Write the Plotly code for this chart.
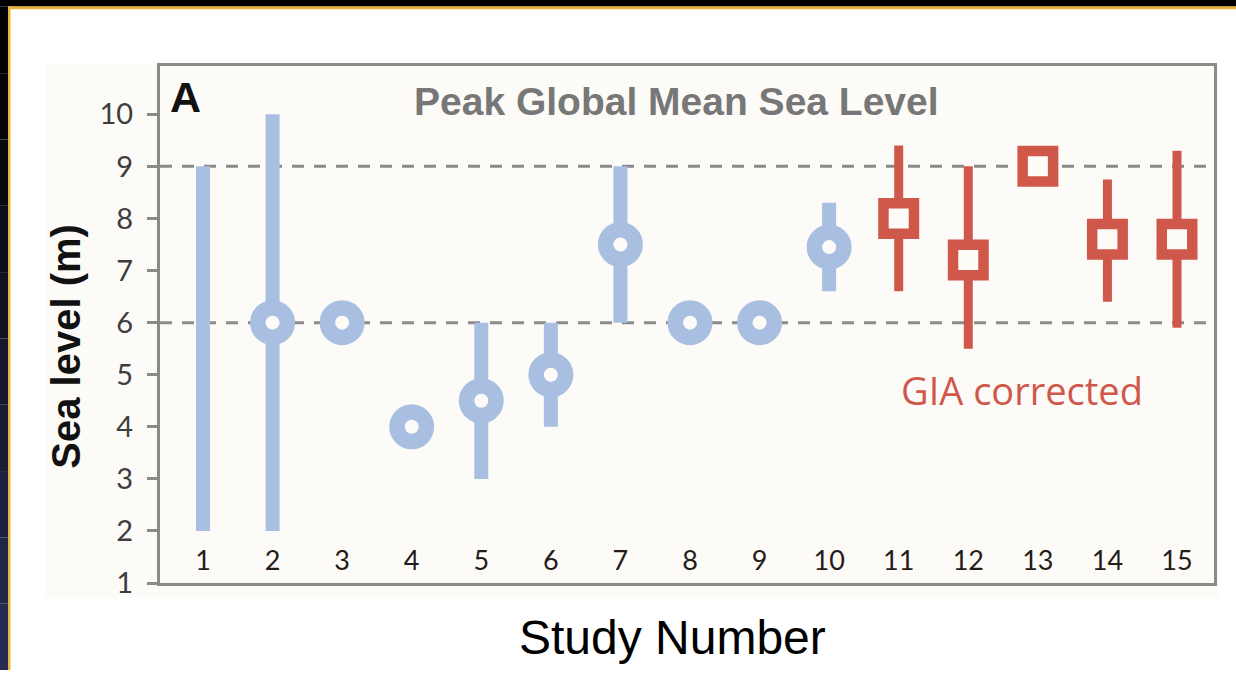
import plotly.graph_objects as go

# Peak global mean sea level estimates by study
studies = list(range(1, 16))
range_low = [2, 2, None, None, 3, 4, 6, None, None, 6.6, 6.6, 5.5, None, 6.4, 5.9]
range_high = [9, 10, None, None, 6, 6, 9, None, None, 8.3, 9.4, 9.0, None, 8.75, 9.3]
central = [None, 6, 6, 4, 4.5, 5, 7.5, 6, 6, 7.45, 8.0, 7.2, 9.0, 7.6, 7.6]
gia_corrected = [False] * 10 + [True] * 5
reference_levels = [6, 9]
y_ticks = list(range(1, 11))

W, H = 1236, 686
BLUE = "#a9bfe1"
RED = "#d0584b"
CREAM = "#fdfbf7"
FRAME = "#8a8a8a"

# plot rectangle in pixels
PL, PR, PT, PB = 160, 1214, 68, 597


def px(x):
    return x / W


def py(y):
    return 1 - y / H


fig = go.Figure()

for corrected, color, bar_w, symbol, msize, mline in [
    (False, BLUE, 14, "circle", 29.5, 15.5),
    (True, RED, 9, "square", 30.5, 10.5),
]:
    xs, ys = [], []
    mx, my = [], []
    for s, lo, hi, c, g in zip(studies, range_low, range_high, central, gia_corrected):
        if g != corrected:
            continue
        if lo is not None and hi is not None:
            xs += [s, s, None]
            ys += [lo, hi, None]
        if c is not None:
            mx.append(s)
            my.append(c)
    fig.add_trace(go.Scatter(x=xs, y=ys, mode="lines",
                             line=dict(color=color, width=bar_w),
                             hoverinfo="skip", showlegend=False))
    fig.add_trace(go.Scatter(x=mx, y=my, mode="markers",
                             marker=dict(symbol=symbol, size=msize, color=CREAM,
                                         line=dict(color=color, width=mline)),
                             showlegend=False))

# study numbers sit inside the frame, just above the bottom axis line
fig.add_trace(go.Scatter(x=studies, y=[1.38] * len(studies), mode="text",
                         text=[str(s) for s in studies], textposition="middle center",
                         textfont=dict(family="Lato", size=27, color="#231c18"),
                         hoverinfo="skip", showlegend=False))

# background decorations (slide frame and panel)
shapes = [
    dict(type="rect", xref="paper", yref="paper", x0=px(46), x1=px(1218), y0=py(612), y1=py(66),
         fillcolor=CREAM, line=dict(width=0), layer="below"),
    dict(type="rect", xref="paper", yref="paper", x0=0, x1=1, y0=py(7), y1=1,
         fillcolor="#000000", line=dict(width=0), layer="below"),
]
# left strip fading from black to navy
bands = 10
for i in range(bands):
    t = i / (bands - 1)
    r = int(38 * t)
    g = int(42 * t)
    b = int(80 * t)
    y0 = 7 + (H - 7) * i / bands
    y1 = 7 + (H - 7) * (i + 1) / bands
    shapes.append(dict(type="rect", xref="paper", yref="paper", x0=0, x1=px(8),
                       y0=py(y1), y1=py(y0), fillcolor=f"rgb({r},{g},{b})",
                       line=dict(width=0), layer="below"))
shapes += [
    dict(type="rect", xref="paper", yref="paper", x0=px(8), x1=1, y0=py(9.5), y1=py(6.5),
         fillcolor="#e9b43c", line=dict(width=0), layer="below"),
    dict(type="rect", xref="paper", yref="paper", x0=px(8), x1=px(10.5), y0=0, y1=py(6.5),
         fillcolor="#e9b43c", line=dict(width=0), layer="below"),
]
for lvl in reference_levels:
    shapes.append(dict(type="line", xref="paper", yref="y", x0=px(PL), x1=px(PR), y0=lvl, y1=lvl,
                       line=dict(color=FRAME, width=3, dash="12px,10px"), layer="below"))
fig.update_layout(shapes=shapes)


def label(x, y, text, **kw):
    fig.add_annotation(x=px(x), y=py(y), xref="paper", yref="paper", text=text,
                       xanchor="center", yanchor="middle", showarrow=False, **kw)


label(676, 104, "<b>Peak Global Mean Sea Level</b>",
      font=dict(family="Liberation Sans", size=39, color="#777777"))
label(185, 99, "<b>A</b>", font=dict(family="Liberation Sans", size=43, color="#111111"))
label(1022, 399, "GIA corrected", font=dict(family="Open Sans", size=38, color=RED))
label(66, 355, "<b>Sea level (m)</b>", textangle=-90,
      font=dict(family="Liberation Sans", size=40, color="#111111"))
label(672, 653, "Study Number", font=dict(family="Liberation Sans", size=48, color="#000000"))

x_lo = 1 - (203 - PL) / 69.57
x_hi = 15 + (PR - 1177) / 69.57
y_lo = 1.0
y_hi = 10 + (117 - PT) / 53.33

fig.update_layout(
    width=W, height=H, autosize=False,
    margin=dict(l=0, r=0, t=0, b=0, pad=0),
    paper_bgcolor="#ffffff",
    plot_bgcolor=CREAM,
    xaxis=dict(domain=[px(PL), px(PR)], range=[x_lo, x_hi], showticklabels=False,
               ticks="", showgrid=False, zeroline=False,
               showline=True, linecolor=FRAME, linewidth=3, mirror=True),
    yaxis=dict(domain=[py(PB), py(PT)], range=[y_lo, y_hi], tickvals=y_ticks,
               ticks="outside", ticklen=10, tickwidth=3, tickcolor=FRAME,
               ticklabelstandoff=8,
               showgrid=False, zeroline=False,
               showline=True, linecolor=FRAME, linewidth=3, mirror=True,
               tickfont=dict(family="Lato", size=29, color="#3d3d3d")),
)

fig.write_html("out.html")
